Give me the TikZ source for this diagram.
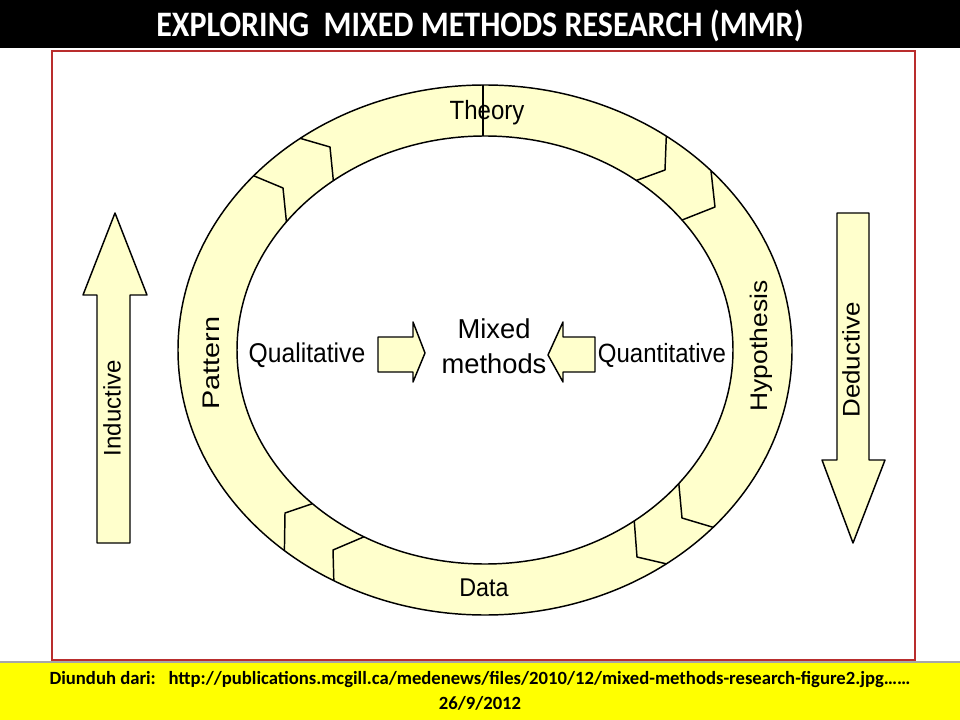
\documentclass[tikz,border=0pt]{standalone}
\usepackage{fontspec}
\setmainfont{Liberation Sans}
\newfontfamily\calfont{Carlito}
\usetikzlibrary{calc}
\definecolor{ringfill}{RGB}{255,255,204}
\definecolor{framered}{RGB}{185,45,45}
\definecolor{baryellow}{RGB}{255,255,0}
\tikzset{
  shapeline/.style={draw=black, line width=1.1pt, line join=round},
  chevline/.style={draw=black, line width=1.1pt, line join=round},
  lbl/.style={inner sep=0pt, anchor=base, text=black},
  vlbl/.style={inner sep=0pt, rotate=90, text=black},
}
\newcommand\chev[3]{\draw[chevline] ({485+248*cos(#1)},{350-214*sin(#1)}) -- (#3) -- ({485+307*cos(#2)},{350-265*sin(#2)});}
\begin{document}
\begin{tikzpicture}[x=0.75pt,y=-0.75pt]
\useasboundingbox (0,0) rectangle (960,720);
\fill[white] (0,0) rectangle (960,720);
% title bar
\fill[black] (0,0) rectangle (960,48);
\node[lbl, text=white, font=\calfont\bfseries\fontsize{24}{28}\selectfont] (title) at (480,37) {\scalebox{1}[1.12]{EXPLORING\ \ MIXED METHODS RESEARCH (MMR)}};
% frame
\draw[framered, line width=0.8pt] (52,51) rectangle (915,660);
% bottom bar
\fill[baryellow] (0,662) rectangle (960,720);
\draw[gray!70, line width=0.8pt] (0,662) -- (960,662);
\node[lbl, font=\calfont\bfseries\fontsize{14}{16}\selectfont] (src) at (480,684) {Diunduh dari:\ \ \ http://publications.mcgill.ca/medenews/files/2010/12/mixed-methods-research-figure2.jpg……};
\node[lbl, font=\calfont\bfseries\fontsize{14}{16}\selectfont] (date) at (480,709) {26/9/2012};
% ring
\fill[ringfill, even odd rule] (485,350) ellipse [x radius=307, y radius=265] (485,350) ellipse [x radius=248, y radius=214];
\draw[shapeline] (485,350) ellipse [x radius=307, y radius=265];
\draw[shapeline] (485,350) ellipse [x radius=248, y radius=214];
% chevrons (clockwise flow)
\chev{143.2}{138.9}{283,188}
\chev{127.7}{127}{330,147}
\chev{52.4}{53.8}{665,170}
\chev{37.4}{42.6}{715,207}
\chev{-38.6}{-42}{682,518}
\chev{-53}{-53.8}{637,557}
\chev{225.9}{229.2}{285,513}
\chev{240.8}{240.5}{333,550}
% ring labels
\node[lbl, font=\fontsize{18}{21}\selectfont] (theory) at (487,120) {\scalebox{1}[1.1]{Theory}};
\draw[line width=2.2pt] (483,85) -- (483,136);
\node[lbl, font=\fontsize{17.5}{21}\selectfont] (data) at (484,596) {\scalebox{1}[1.1]{Data}};
\node[vlbl, font=\fontsize{18}{21}\selectfont] (pattern) at (211,363) {\scalebox{1.2}[1]{Pattern}};
\node[vlbl, font=\fontsize{18}{21}\selectfont] (hypo) at (761,346) {\scalebox{1.1}[1]{Hypothesis}};
% centre
\node[lbl, font=\fontsize{18.5}{21}\selectfont] (qual) at (307,362) {\scalebox{1}[1.1]{Qualitative}};
\node[lbl, font=\fontsize{18}{21}\selectfont] (quant) at (662,362) {\scalebox{1}[1.1]{Quantitative}};
\node[lbl, font=\fontsize{20.5}{24}\selectfont] (mixed1) at (494,339) {Mixed};
\node[lbl, font=\fontsize{20.5}{24}\selectfont] (mixed2) at (494,373) {methods};
% block arrows
\filldraw[fill=ringfill, shapeline] (378,337) -- (413,337) -- (413,322) -- (425,353) -- (413,382) -- (413,372) -- (378,372) -- cycle;
\filldraw[fill=ringfill, shapeline] (595,337) -- (563,337) -- (563,322) -- (548,355) -- (563,382) -- (563,372) -- (595,372) -- cycle;
% inductive / deductive
\filldraw[fill=ringfill, shapeline] (97,543) -- (97,295) -- (83,295) -- (115,213) -- (147,295) -- (130,295) -- (130,543) -- cycle;
\filldraw[fill=ringfill, shapeline] (837,213) -- (869,213) -- (869,460) -- (885,460) -- (853,543) -- (822,460) -- (837,460) -- cycle;
\node[vlbl, font=\fontsize{18}{21}\selectfont] (induct) at (112,408) {Inductive};
\node[vlbl, font=\fontsize{18}{21}\selectfont] (deduct) at (851,360) {\scalebox{1.08}[1]{Deductive}};
\end{tikzpicture}
\end{document}
